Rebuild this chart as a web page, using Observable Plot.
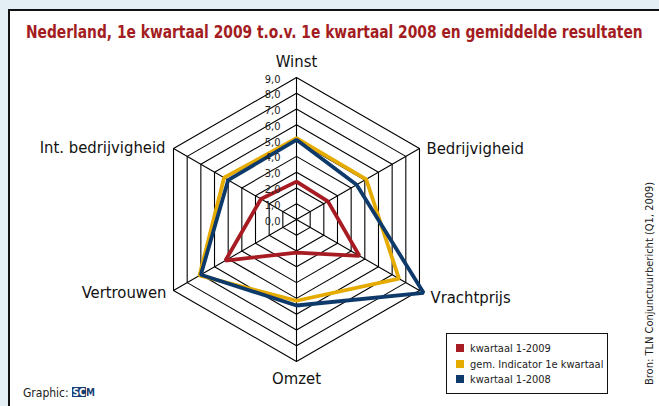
<!DOCTYPE html>
<html>
<head>
<meta charset="utf-8">
<script src="https://cdn.jsdelivr.net/npm/d3@7"></script>
<script src="https://cdn.jsdelivr.net/npm/@observablehq/plot@0.6"></script>
<style>
  html, body { margin: 0; padding: 0; }
  body { width: 659px; height: 406px; overflow: hidden; position: relative; background: #e3eef5;
         font-family: 'DejaVu Sans Condensed', 'DejaVu Sans', sans-serif; }
  #panel { position: absolute; left: 8px; top: 9px; width: 700px; height: 500px; background: #fff;
           border-left: 2.5px solid #111; border-top: 2.5px solid #111; }
  #chart, #deco { position: absolute; left: 0; top: 0; }
  #legend { position: absolute; left: 446px; top: 333px; width: 162px; height: 61px; border: 1px solid #111;
            background: #fff; box-sizing: border-box; padding: 7px 0 0 9px; }
  .item { height: 15.5px; line-height: 15.5px; font-size: 11px; color: #222; white-space: nowrap; }
  .sw { display: inline-block; width: 8px; height: 8px; margin-right: 6px; vertical-align: 0px; }
</style>
</head>
<body>
<div id="panel"></div>
<div id="chart"></div>
<svg id="deco" width="659" height="406"></svg>
<div id="legend"></div>
<script>
// ---- data ----
const categories = ["Winst", "Bedrijvigheid", "Vrachtprijs", "Omzet", "Vertrouwen", "Int. bedrijvigheid"];
const kwartaal2009 = [2.4, 2.3, 4.6, 2.1, 5.2, 2.6];
const gemIndicator = [5.15, 5.1, 7.5, 5.15, 7.1, 5.3];
const kwartaal2008 = [5.05, 4.4, 9.3, 5.45, 7.0, 5.0];
const seriesNames = ["kwartaal 1-2009", "gem. Indicator 1e kwartaal", "kwartaal 1-2008"];
const seriesColors = ["#a61c22", "#e5ab00", "#0d3a6a"];
const tickValues = [0, 1, 2, 3, 4, 5, 6, 7, 8, 9];
const tickLabels = ["0,0", "1,0", "2,0", "3,0", "4,0", "5,0", "6,0", "7,0", "8,0", "9,0"];
const titleText = "Nederland, 1e kwartaal 2009 t.o.v. 1e kwartaal 2008 en gemiddelde resultaten";
const sourceText = "Bron: TLN Conjunctuurbericht (Q1, 2009)";

// ---- geometry helpers ----
const W = 659, H = 406, cx = 296, cy = 219;
const maxV = d3.max(tickValues);
const k = 142 / maxV; // px per unit
const ang = i => i * 2 * Math.PI / categories.length;
const px = (r, i) => r * Math.sin(ang(i));
const py = (r, i) => r * Math.cos(ang(i));

const seriesValues = [kwartaal2009, gemIndicator, kwartaal2008];
const rows = seriesValues.flatMap((vals, s) => vals.map((v, i) => ({series: seriesNames[s], s, i, v})));
const rings = tickValues.filter(v => v > 0).flatMap(v => categories.map((c, i) => ({level: v, i})));
const idx = categories.map((c, i) => i);

const place = [
  {anchor: "middle", dx: 0, dy: -16},
  {anchor: "start", dx: 7, dy: 0},
  {anchor: "start", dx: 11, dy: 7},
  {anchor: "middle", dx: 0, dy: 17},
  {anchor: "end", dx: -7, dy: 2},
  {anchor: "end", dx: -8, dy: -1}
];

const seriesLine = s => Plot.line(rows.filter(d => d.s === s), {
  x: d => px(d.v, d.i), y: d => py(d.v, d.i), curve: "linear-closed",
  stroke: seriesColors[s], strokeWidth: 3.8, strokeLinejoin: "miter"
});

const chart = Plot.plot({
  width: W, height: H, margin: 0,
  style: {background: "transparent", fontFamily: "'DejaVu Sans Condensed','DejaVu Sans',sans-serif"},
  x: {domain: [-cx / k, (W - cx) / k], axis: null},
  y: {domain: [-(H - cy) / k, cy / k], axis: null},
  marks: [
    Plot.line(rings, {x: d => px(d.level, d.i), y: d => py(d.level, d.i), z: "level", curve: "linear-closed", stroke: "#000", strokeWidth: 1.1}),
    Plot.link(idx, {x1: 0, y1: 0, x2: i => px(maxV, i), y2: i => py(maxV, i), stroke: "#000", strokeWidth: 1.1}),
    seriesLine(1),
    seriesLine(2),
    seriesLine(0),
    Plot.text(tickValues, {x: 0, y: d => d, text: (d, i) => tickLabels[i], textAnchor: "end", dx: -16, dy: 1.5, fontSize: 11, fill: "#222"}),
    ...idx.map(i => Plot.text([categories[i]], {
      x: () => px(maxV, i), y: () => py(maxV, i), text: d => d,
      textAnchor: place[i].anchor, dx: place[i].dx, dy: place[i].dy, fontSize: 16.5, fill: "#111"
    }))
  ]
});
document.getElementById("chart").appendChild(chart);

// ---- decorations ----
const deco = d3.select("#deco");
const title = deco.append("text").attr("x", 0).attr("y", 0).attr("font-size", 18.5).attr("font-weight", "bold")
  .attr("fill", "#a31c21").text(titleText);
const natural = title.node().getComputedTextLength();
title.attr("transform", `translate(26,37.5) scale(${617 / natural},1)`);
deco.append("text").attr("transform", "translate(653,385) rotate(-90)").attr("font-size", 11)
  .attr("fill", "#222").text(sourceText);
deco.append("text").attr("x", 23).attr("y", 397).attr("font-size", 12).attr("fill", "#222").text("Graphic:");
deco.append("rect").attr("x", 72).attr("y", 387).attr("width", 14).attr("height", 10).attr("fill", "#1a3f75");
deco.append("text").attr("x", 72.5).attr("y", 396).attr("font-size", 10).attr("font-weight", "bold").attr("fill", "#fff").text("SC");
deco.append("text").attr("x", 86).attr("y", 396).attr("font-size", 10).attr("font-weight", "bold").attr("fill", "#1a3f75").text("M");

// ---- legend ----
const legend = d3.select("#legend");
seriesNames.forEach((n, s) => {
  const it = legend.append("div").attr("class", "item");
  it.append("span").attr("class", "sw").style("background", seriesColors[s]);
  it.append("span").text(n);
});
</script>
</body>
</html>
